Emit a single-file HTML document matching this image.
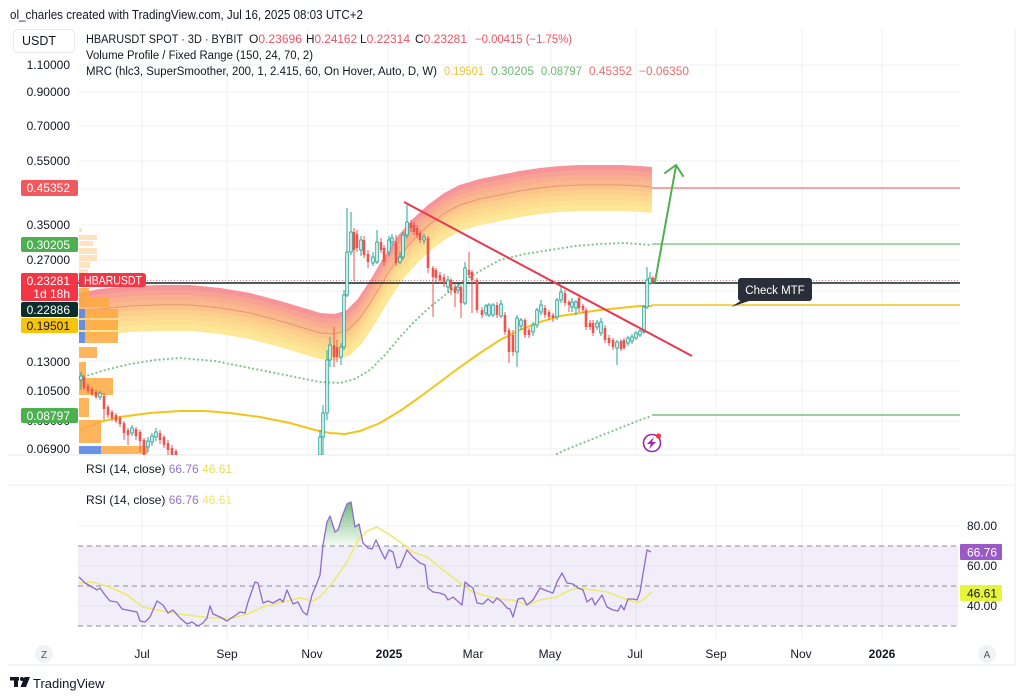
<!DOCTYPE html>
<html><head><meta charset="utf-8">
<style>
html,body{margin:0;padding:0;background:#fff;}
svg{display:block;font-family:"Liberation Sans",Arial,sans-serif;}
</style></head>
<body>
<svg width="1024" height="698" viewBox="0 0 1024 698" xmlns="http://www.w3.org/2000/svg">
<defs>
<clipPath id="mp"><rect x="78" y="28" width="882" height="427"/></clipPath>
<linearGradient id="gf" x1="0" y1="0" x2="0" y2="1">
<stop offset="0" stop-color="#3f9f58" stop-opacity="0.75"/>
<stop offset="1" stop-color="#4caf50" stop-opacity="0.05"/>
</linearGradient>
<polyline id="bc" points="79,313 100,309 130,306 160,305 190,305 220,308 250,313 280,321 300,327 320,333 335,334 348,330 360,318 372,300 385,278 400,255 415,238 430,224 445,213 460,205 480,199 500,195 520,191 540,188 560,186 580,185 600,185 620,185 640,186 652,187"/>
</defs>
<rect width="1024" height="698" fill="#fff"/>

<!-- header -->
<text x="10" y="19" font-size="12.5" fill="#131722" textLength="353" lengthAdjust="spacingAndGlyphs">ol_charles created with TradingView.com, Jul 16, 2025 08:03 UTC+2</text>

<!-- frame -->
<line x1="8" y1="665" x2="1015" y2="665" stroke="#e6e8ee"/>
<line x1="1015" y1="28" x2="1015" y2="665" stroke="#eceef2"/>
<line x1="8" y1="455" x2="1015" y2="455" stroke="#e6e8ee"/>
<line x1="8" y1="485" x2="1015" y2="485" stroke="#eceef2"/>

<!-- main grid -->
<g stroke="#eff1f5" stroke-width="1">
<line x1="78" y1="65" x2="960" y2="65"/><line x1="78" y1="92" x2="960" y2="92"/>
<line x1="78" y1="126" x2="960" y2="126"/><line x1="78" y1="161" x2="960" y2="161"/>
<line x1="78" y1="189" x2="960" y2="189"/><line x1="78" y1="225" x2="960" y2="225"/>
<line x1="78" y1="260" x2="960" y2="260"/><line x1="78" y1="291" x2="960" y2="291"/>
<line x1="78" y1="323" x2="960" y2="323"/><line x1="78" y1="361" x2="960" y2="361"/>
<line x1="78" y1="391" x2="960" y2="391"/><line x1="78" y1="421" x2="960" y2="421"/>
<line x1="78" y1="449" x2="960" y2="449"/>
<line x1="142" y1="28" x2="142" y2="455"/><line x1="227" y1="28" x2="227" y2="455"/>
<line x1="308" y1="28" x2="308" y2="455"/><line x1="388" y1="28" x2="388" y2="455"/>
<line x1="469" y1="28" x2="469" y2="455"/><line x1="551" y1="28" x2="551" y2="455"/>
<line x1="636" y1="28" x2="636" y2="455"/><line x1="716" y1="28" x2="716" y2="455"/>
<line x1="802" y1="28" x2="802" y2="455"/><line x1="882" y1="28" x2="882" y2="455"/>
</g>

<g clip-path="url(#mp)">
<!-- MRC band -->
<g fill="none" stroke-width="6" stroke-linecap="butt" stroke-linejoin="round">
<use href="#bc" transform="translate(0,-17)" stroke="#f7949a"/>
<use href="#bc" transform="translate(0,-12)" stroke="#f8a195"/>
<use href="#bc" transform="translate(0,-7)" stroke="#f9ae90"/>
<use href="#bc" transform="translate(0,-2)" stroke="#fab98c"/>
<use href="#bc" transform="translate(0,3)" stroke="#fbc48b"/>
<use href="#bc" transform="translate(0,8)" stroke="#fccf8d"/>
<use href="#bc" transform="translate(0,13)" stroke="#fdd98f"/>
<use href="#bc" transform="translate(0,18)" stroke="#fde192"/>
<use href="#bc" transform="translate(0,23)" stroke="#fee898"/>
</g>
<use href="#bc" fill="none" stroke="#e48b6e" stroke-width="1" opacity="0.8"/>

<!-- dotted bands -->
<polyline points="80,378 105,370 130,364 155,360 180,358 215,361 250,368 280,374 300,378 320,382 340,383 355,379 370,370 385,355 400,337 415,321 430,307 450,291 470,277 485,268 500,260 525,254 550,250 575,246 600,244 625,243 652,245" fill="none" stroke="#86c58e" stroke-width="2.2" stroke-dasharray="0.1 4.2" stroke-linecap="round"/>
<polyline points="553,456 565,450 580,444 595,438 610,432 625,426 640,420 652,416" fill="none" stroke="#86c58e" stroke-width="2.2" stroke-dasharray="0.1 4.2" stroke-linecap="round"/>
<!-- mean -->
<polyline points="80,430 100,422 120,417 150,413 180,411 205,411 230,413 260,417 290,423 315,430 330,433 345,434 360,431 380,423 400,411 420,397 440,382 460,367 480,353 500,340 520,330 540,322 560,316 580,313 600,310 620,308 640,306 652,306" fill="none" stroke="#f3c419" stroke-width="2"/>

<!-- horizontal level lines -->
<line x1="652" y1="188" x2="960" y2="188" stroke="#f07575" stroke-width="1.2"/>
<line x1="652" y1="244" x2="960" y2="244" stroke="#8cc98f" stroke-width="1.5"/>
<line x1="652" y1="305" x2="960" y2="305" stroke="#f3c419" stroke-width="1.5"/>
<line x1="652" y1="415" x2="960" y2="415" stroke="#7cbf80" stroke-width="1.5"/>
<line x1="78" y1="280.5" x2="960" y2="280.5" stroke="#f23645" stroke-width="1" stroke-dasharray="1 2" opacity="0.7"/>
<line x1="78" y1="283" x2="960" y2="283" stroke="#0e2a27" stroke-width="1.6"/>

<!-- volume profile -->
<g fill="#ffe1bd" opacity="0.95">
<rect x="79" y="228" width="3" height="4"/>
<rect x="79" y="235" width="18" height="5"/>
<rect x="79" y="241" width="14" height="5"/>
<rect x="79" y="248" width="18" height="6"/>
<rect x="79" y="255" width="18" height="6"/>
<rect x="79" y="262" width="11" height="6"/>
<rect x="79" y="269" width="9" height="5"/>
</g>
<g fill="#ffa93f" opacity="0.85">
<rect x="79" y="288" width="10" height="9"/>
<rect x="79" y="298" width="30" height="9"/>
<rect x="85" y="309" width="33" height="9"/>
<rect x="85" y="320" width="33" height="10"/>
<rect x="85" y="332" width="33" height="11"/>
<rect x="79" y="347" width="18" height="11"/>
<rect x="79" y="362" width="7" height="15"/>
<rect x="79" y="378" width="34" height="17"/>
<rect x="79" y="398" width="10" height="19"/>
<rect x="79" y="420" width="22" height="23"/>
<rect x="101" y="446" width="47" height="8"/>
</g>
<g fill="#5b86e5" opacity="0.9">
<rect x="79" y="309" width="6" height="9"/>
<rect x="79" y="320" width="6" height="10"/>
<rect x="79" y="332" width="6" height="11"/>
<rect x="79" y="446" width="22" height="8"/>
</g>

<!-- candles wicks -->
<path fill="none" stroke="#26a69a" stroke-width="1" d="M81 372V390M100 391V400M132 425V436M148 437V452M152 433V446M156 428V441M320 430V455M323 405V455M327 350V420M330 337V367M341 343V365M344 290V350M347 208V297M351 212V255M361 236V256M373 252V266M377 230V264M389 236V256M392 234V246M400 252V264M403 232V260M407 205V238M424 234V244M448 276V293M458 284V294M465 262V305M486 304V316M489 303V317M493 303V317M501 300V318M517 315V367M521 318V330M533 322V336M537 308V328M541 300V315M557 298V320M561 285V303M572 298V312M576 300V315M597 320V330M601 318V336M617 340V365M628 336V346M632 334V344M636 331V340M640 329V337M644 305V334M647 267V309M650 272V285"/>
<path fill="none" stroke="#ef5350" stroke-width="1" d="M84 375V390M88 384V393M92 387V396M96 390V399M104 393V420M108 405V418M112 410V421M116 413V423M120 416V427M124 421V440M128 428V445M136 427V440M140 430V452M144 438V455M160 430V444M164 435V448M168 440V455M172 445V455M176 449V455M334 327V367M337 340V362M354 228V281M357 230V252M364 236V258M368 250V268M381 238V253M384 245V266M396 235V266M411 220V232M414 222V235M417 225V238M420 230V243M428 236V273M433 266V317M436 268V282M440 272V284M444 274V287M451 278V295M455 284V307M461 285V318M469 252V278M472 270V313M477 278V313M482 307V318M497 302V318M505 312V335M509 328V363M513 330V356M525 318V338M529 328V338M545 305V318M549 310V320M553 313V322M565 290V306M569 300V312M579 296V312M583 304V313M586 308V330M590 320V330M593 320V336M605 325V343M609 335V346M613 338V350M621 339V351M624 338V350M653 276V284"/>
<!-- green bodies -->
<g fill="#e8f6f4" stroke="#26a69a" stroke-width="0.9">
<rect x="79.7" y="376" width="2.6" height="4"/><rect x="98.7" y="393" width="2.6" height="4"/>
<rect x="130.7" y="428" width="2.6" height="5"/><rect x="146.7" y="441" width="2.6" height="6"/>
<rect x="150.7" y="436" width="2.6" height="6"/><rect x="154.7" y="432" width="2.6" height="5"/>
<rect x="318.7" y="437" width="2.6" height="18"/><rect x="321.7" y="413" width="2.6" height="24"/>
<rect x="325.7" y="360" width="2.6" height="53"/><rect x="328.7" y="345" width="2.6" height="15"/>
<rect x="339.7" y="347" width="2.6" height="10"/><rect x="342.7" y="295" width="2.6" height="52"/>
<rect x="345.7" y="252" width="2.6" height="43"/><rect x="349.7" y="232" width="2.6" height="20"/>
<rect x="359.7" y="240" width="2.6" height="10"/><rect x="371.7" y="257" width="2.6" height="6"/>
<rect x="375.7" y="242" width="2.6" height="20"/><rect x="387.7" y="240" width="2.6" height="12"/>
<rect x="390.7" y="238" width="2.6" height="4"/><rect x="398.7" y="257" width="2.6" height="5"/>
<rect x="401.7" y="235" width="2.6" height="22"/><rect x="405.7" y="222" width="2.6" height="13"/>
<rect x="422.7" y="237" width="2.6" height="3"/><rect x="446.7" y="280" width="2.6" height="7"/>
<rect x="456.7" y="287" width="2.6" height="3"/><rect x="463.7" y="268" width="2.6" height="35"/>
<rect x="484.7" y="306" width="2.6" height="7"/><rect x="487.7" y="305" width="2.6" height="10"/>
<rect x="491.7" y="305" width="2.6" height="10"/><rect x="499.7" y="304" width="2.6" height="12"/>
<rect x="515.7" y="318" width="2.6" height="34"/><rect x="519.7" y="320" width="2.6" height="6"/>
<rect x="531.7" y="325" width="2.6" height="7"/><rect x="535.7" y="310" width="2.6" height="15"/>
<rect x="539.7" y="305" width="2.6" height="7"/><rect x="555.7" y="300" width="2.6" height="17"/>
<rect x="559.7" y="292" width="2.6" height="8"/><rect x="570.7" y="302" width="2.6" height="5"/>
<rect x="574.7" y="302" width="2.6" height="6"/><rect x="595.7" y="323" width="2.6" height="4"/>
<rect x="599.7" y="322" width="2.6" height="11"/><rect x="615.7" y="342" width="2.6" height="6"/>
<rect x="626.7" y="338" width="2.6" height="5"/><rect x="630.7" y="337" width="2.6" height="4"/>
<rect x="634.7" y="333" width="2.6" height="5"/><rect x="638.7" y="331" width="2.6" height="4"/>
<rect x="642.7" y="307" width="2.6" height="25"/><rect x="645.7" y="280" width="2.6" height="27"/>
<rect x="648.7" y="278" width="2.6" height="5"/>
</g>
<!-- red bodies -->
<g fill="#ef5350">
<rect x="82.7" y="377" width="2.6" height="11"/><rect x="86.7" y="386" width="2.6" height="5"/>
<rect x="90.7" y="389" width="2.6" height="5"/><rect x="94.7" y="392" width="2.6" height="5"/>
<rect x="102.7" y="396" width="2.6" height="13"/><rect x="106.7" y="407" width="2.6" height="8"/>
<rect x="110.7" y="412" width="2.6" height="6"/><rect x="114.7" y="415" width="2.6" height="6"/>
<rect x="118.7" y="418" width="2.6" height="6"/><rect x="122.7" y="423" width="2.6" height="10"/>
<rect x="126.7" y="430" width="2.6" height="5"/><rect x="134.7" y="429" width="2.6" height="7"/>
<rect x="138.7" y="432" width="2.6" height="9"/><rect x="142.7" y="440" width="2.6" height="15"/>
<rect x="158.7" y="433" width="2.6" height="7"/><rect x="162.7" y="437" width="2.6" height="8"/>
<rect x="166.7" y="443" width="2.6" height="7"/><rect x="170.7" y="448" width="2.6" height="7"/>
<rect x="174.7" y="451" width="2.6" height="4"/>
<rect x="332.7" y="345" width="2.6" height="12"/><rect x="335.7" y="347" width="2.6" height="10"/>
<rect x="352.7" y="232" width="2.6" height="18"/><rect x="355.7" y="234" width="2.6" height="14"/>
<rect x="362.7" y="240" width="2.6" height="15"/><rect x="366.7" y="254" width="2.6" height="8"/>
<rect x="379.7" y="242" width="2.6" height="8"/><rect x="382.7" y="248" width="2.6" height="14"/>
<rect x="394.7" y="242" width="2.6" height="21"/><rect x="409.7" y="223" width="2.6" height="5"/>
<rect x="412.7" y="225" width="2.6" height="7"/><rect x="415.7" y="228" width="2.6" height="7"/>
<rect x="418.7" y="233" width="2.6" height="7"/><rect x="426.7" y="238" width="2.6" height="30"/>
<rect x="431.7" y="268" width="2.6" height="9"/><rect x="434.7" y="270" width="2.6" height="8"/>
<rect x="438.7" y="275" width="2.6" height="5"/><rect x="442.7" y="277" width="2.6" height="6"/>
<rect x="449.7" y="280" width="2.6" height="10"/><rect x="453.7" y="287" width="2.6" height="6"/>
<rect x="459.7" y="287" width="2.6" height="16"/><rect x="467.7" y="270" width="2.6" height="5"/>
<rect x="470.7" y="272" width="2.6" height="8"/><rect x="475.7" y="280" width="2.6" height="30"/>
<rect x="480.7" y="310" width="2.6" height="5"/><rect x="495.7" y="305" width="2.6" height="10"/>
<rect x="503.7" y="315" width="2.6" height="17"/><rect x="507.7" y="330" width="2.6" height="22"/>
<rect x="511.7" y="335" width="2.6" height="17"/><rect x="523.7" y="320" width="2.6" height="15"/>
<rect x="527.7" y="330" width="2.6" height="5"/><rect x="543.7" y="308" width="2.6" height="7"/>
<rect x="547.7" y="312" width="2.6" height="5"/><rect x="551.7" y="315" width="2.6" height="3"/>
<rect x="563.7" y="293" width="2.6" height="10"/><rect x="567.7" y="302" width="2.6" height="3"/>
<rect x="577.7" y="298" width="2.6" height="10"/><rect x="581.7" y="306" width="2.6" height="4"/>
<rect x="584.7" y="310" width="2.6" height="17"/><rect x="588.7" y="323" width="2.6" height="4"/>
<rect x="591.7" y="323" width="2.6" height="10"/><rect x="603.7" y="328" width="2.6" height="12"/>
<rect x="607.7" y="338" width="2.6" height="5"/><rect x="611.7" y="340" width="2.6" height="7"/>
<rect x="619.7" y="341" width="2.6" height="8"/><rect x="622.7" y="340" width="2.6" height="8"/>
<rect x="651.7" y="278" width="2.6" height="4"/>
</g>

<!-- trend line -->
<line x1="404" y1="202" x2="692" y2="356" stroke="#e8384f" stroke-width="2"/>
<!-- arrow -->
<g stroke="#4caf50" stroke-width="2" fill="none" stroke-linecap="round" stroke-linejoin="round">
<line x1="655" y1="282" x2="676" y2="166"/>
<polyline points="665,173 676,165 683,176"/>
</g>

<!-- lightning icon -->
<circle cx="652" cy="443" r="8.5" fill="#fff" stroke="#9c27b0" stroke-width="1.6"/>
<polygon points="654,437 647,444 651,444 649,449 656,442 652,442" fill="#9c27b0"/>
<circle cx="658.5" cy="436" r="2.6" fill="#f23645"/>
</g>

<!-- Check MTF tooltip -->
<rect x="738" y="278" width="74" height="23" rx="3" fill="#2a2e39"/>
<polygon points="742,300 752,300 731,307" fill="#2a2e39"/>
<text x="775" y="294" font-size="11.5" fill="#fff" text-anchor="middle">Check MTF</text>

<!-- legend -->
<rect x="13.5" y="29.5" width="61" height="23" rx="4" fill="#fff" stroke="#e6e8ee"/>
<text x="22" y="45" font-size="12.5" fill="#131722">USDT</text>
<g font-size="11.5" fill="#131722">
<text x="86" y="43" textLength="157" lengthAdjust="spacingAndGlyphs">HBARUSDT SPOT · 3D · BYBIT</text>
<text x="249" y="43" textLength="53" lengthAdjust="spacingAndGlyphs">O<tspan fill="#ef5362">0.23696</tspan></text>
<text x="306" y="43" textLength="51" lengthAdjust="spacingAndGlyphs">H<tspan fill="#ef5362">0.24162</tspan></text>
<text x="360" y="43" textLength="50" lengthAdjust="spacingAndGlyphs">L<tspan fill="#ef5362">0.22314</tspan></text>
<text x="415" y="43" textLength="52" lengthAdjust="spacingAndGlyphs">C<tspan fill="#ef5362">0.23281</tspan></text>
<text x="475" y="43" fill="#ef5362" textLength="97" lengthAdjust="spacingAndGlyphs">−0.00415 (−1.75%)</text>
<text x="86" y="59" textLength="227" lengthAdjust="spacingAndGlyphs">Volume Profile / Fixed Range (150, 24, 70, 2)</text>
<text x="86" y="75" textLength="351" lengthAdjust="spacingAndGlyphs">MRC (hlc3, SuperSmoother, 200, 1, 2.415, 60, On Hover, Auto, D, W)</text>
<text x="444" y="75" fill="#e9c43f" textLength="40" lengthAdjust="spacingAndGlyphs">0.19501</text>
<text x="491" y="75" fill="#6fb873" textLength="43" lengthAdjust="spacingAndGlyphs">0.30205</text>
<text x="541" y="75" fill="#6fb873" textLength="41" lengthAdjust="spacingAndGlyphs">0.08797</text>
<text x="589" y="75" fill="#ee6b6b" textLength="43" lengthAdjust="spacingAndGlyphs">0.45352</text>
<text x="639" y="75" fill="#ee6b6b" textLength="50" lengthAdjust="spacingAndGlyphs">−0.06350</text>
</g>

<!-- left price axis -->
<g font-size="12" fill="#131722" text-anchor="end">
<text x="70" y="69">1.10000</text>
<text x="70" y="96">0.90000</text>
<text x="70" y="130">0.70000</text>
<text x="70" y="165">0.55000</text>
<text x="70" y="229">0.35000</text>
<text x="70" y="264">0.27000</text>
<text x="70" y="366">0.13000</text>
<text x="70" y="395">0.10500</text>
<text x="70" y="425">0.09000</text>
<text x="70" y="453">0.06900</text>
</g>
<rect x="21" y="180" width="57" height="16" rx="2" fill="#f05a5e"/>
<rect x="21" y="237" width="57" height="15" rx="2" fill="#4caf50"/>
<rect x="21" y="273" width="57" height="28" rx="2" fill="#f23645"/>
<path d="M79 273H143a3 3 0 0 1 3 3V284a3 3 0 0 1 -3 3H79z" fill="#f23645"/>
<rect x="21" y="302" width="57" height="15" rx="2" fill="#0b2e2b"/>
<rect x="21" y="318" width="57" height="15" rx="2" fill="#f6c40c"/>
<rect x="21" y="408" width="57" height="15" rx="2" fill="#4caf50"/>
<g font-size="12" fill="#fff" text-anchor="end">
<text x="70" y="192">0.45352</text>
<text x="70" y="249">0.30205</text>
<text x="70" y="285">0.23281</text>
<text x="70" y="298">1d 18h</text>
<text x="70" y="314">0.22886</text>
<text x="70" y="330" fill="#131722">0.19501</text>
<text x="70" y="420">0.08797</text>
</g>
<text x="84" y="284.5" font-size="11.5" fill="#fff" textLength="58" lengthAdjust="spacingAndGlyphs">HBARUSDT</text>

<!-- RSI labels -->
<g font-size="12" fill="#131722">
<text x="86" y="473">RSI (14, close) <tspan fill="#9575cd">66.76</tspan> <tspan fill="#e8dd5a">46.61</tspan></text>
<text x="86" y="504">RSI (14, close) <tspan fill="#9575cd">66.76</tspan> <tspan fill="#eae96a">46.61</tspan></text>
</g>

<!-- RSI pane grid -->
<g stroke="#eff1f5">
<line x1="78" y1="526" x2="960" y2="526"/><line x1="78" y1="566" x2="960" y2="566"/><line x1="78" y1="606" x2="960" y2="606"/>
<line x1="142" y1="485" x2="142" y2="640"/><line x1="227" y1="485" x2="227" y2="640"/>
<line x1="308" y1="485" x2="308" y2="640"/><line x1="388" y1="485" x2="388" y2="640"/>
<line x1="469" y1="485" x2="469" y2="640"/><line x1="551" y1="485" x2="551" y2="640"/>
<line x1="636" y1="485" x2="636" y2="640"/><line x1="716" y1="485" x2="716" y2="640"/>
<line x1="802" y1="485" x2="802" y2="640"/><line x1="882" y1="485" x2="882" y2="640"/>
</g>
<rect x="78" y="546" width="880" height="80" fill="#7e57c2" opacity="0.1"/>
<g stroke="#8a8d96" stroke-width="1" stroke-dasharray="5 4">
<line x1="78" y1="546" x2="958" y2="546"/>
<line x1="78" y1="586" x2="958" y2="586"/>
<line x1="78" y1="626" x2="958" y2="626"/>
</g>
<polygon points="323,546 327,522 330,516 335,532 338,530 342,517 347,504 351,502 355,527 359,524 363,543 363.5,546" fill="url(#gf)"/>
<polyline fill="none" stroke="#ecea70" stroke-width="1.6" points="79,583 92,582 110,587 127,595 143,607 167,612 187,615 213,618 233,618 247,614 263,607 283,602 300,598 313,601 320,597 333,582 347,562 358,540 367,531 377,527 387,533 400,542 413,552 427,557 443,570 460,583 473,592 490,597 507,600 513,600 527,605 540,600 557,597 570,590 580,588 593,590 607,592 623,598 637,603 643,600 652,592"/>
<polyline fill="none" stroke="#8e6bc8" stroke-width="1.3" stroke-linejoin="round" points="79,577 85,583 92,587 97,590 100,588 105,595 110,601 117,602 122,609 127,610 132,611 137,612 140,621 145,622 150,617 157,601 163,605 168,613 173,610 180,618 187,624 192,622 198,626 203,623 207,618 210,606 213,614 220,617 227,621 233,617 240,612 245,613 248,602 255,582 258,583 263,603 268,601 273,603 280,599 283,602 287,590 293,604 298,602 303,612 307,615 312,595 317,583 320,575 323,545 327,522 330,516 335,532 338,530 342,517 347,504 351,502 355,527 359,524 363,543 368,548 372,549 376,540 380,549 385,559 389,550 393,552 397,568 400,567 407,550 413,557 420,563 425,565 428,588 433,592 440,593 445,595 448,600 453,597 462,605 465,582 470,586 473,588 477,603 483,604 488,599 493,603 497,598 502,602 507,608 510,609 513,617 518,599 523,598 527,605 533,600 540,588 547,591 553,593 557,582 562,573 567,583 573,584 578,588 583,590 587,602 592,598 595,605 602,595 607,607 613,610 618,611 621,605 624,610 628,599 633,599 637,600 640,592 647,550 651,552"/>

<!-- RSI right axis -->
<g font-size="12" fill="#131722">
<text x="967" y="530">80.00</text>
<text x="967" y="570">60.00</text>
<text x="967" y="610">40.00</text>
</g>
<rect x="960" y="544" width="42" height="16" rx="1" fill="#9b59c6"/>
<text x="967" y="556.5" font-size="12" fill="#fff">66.76</text>
<rect x="960" y="585" width="42" height="16" rx="1" fill="#e6f43a"/>
<text x="967" y="597.5" font-size="12" fill="#131722">46.61</text>

<!-- time axis -->
<circle cx="44" cy="654" r="9" fill="#f0f2f5"/>
<text x="44" y="658" font-size="10" fill="#555" text-anchor="middle">Z</text>
<circle cx="987" cy="654" r="9" fill="#f0f2f5"/>
<text x="987" y="658" font-size="10" fill="#555" text-anchor="middle">A</text>
<g font-size="12" fill="#131722" text-anchor="middle">
<text x="142" y="658">Jul</text>
<text x="227" y="658">Sep</text>
<text x="312" y="658">Nov</text>
<text x="389" y="658" font-weight="bold">2025</text>
<text x="473" y="658">Mar</text>
<text x="550" y="658">May</text>
<text x="635" y="658">Jul</text>
<text x="716" y="658">Sep</text>
<text x="801" y="658">Nov</text>
<text x="882" y="658" font-weight="bold">2026</text>
</g>

<!-- TradingView logo -->
<g fill="#131722">
<rect x="10" y="677" width="9" height="3.5"/>
<rect x="14" y="677" width="4" height="10"/>
<circle cx="22" cy="679" r="2"/>
<polygon points="24.5,677 30,677 26,687 20.5,687"/>
</g>
<text x="33" y="688" font-size="13" fill="#131722">TradingView</text>
</svg>
</body></html>
